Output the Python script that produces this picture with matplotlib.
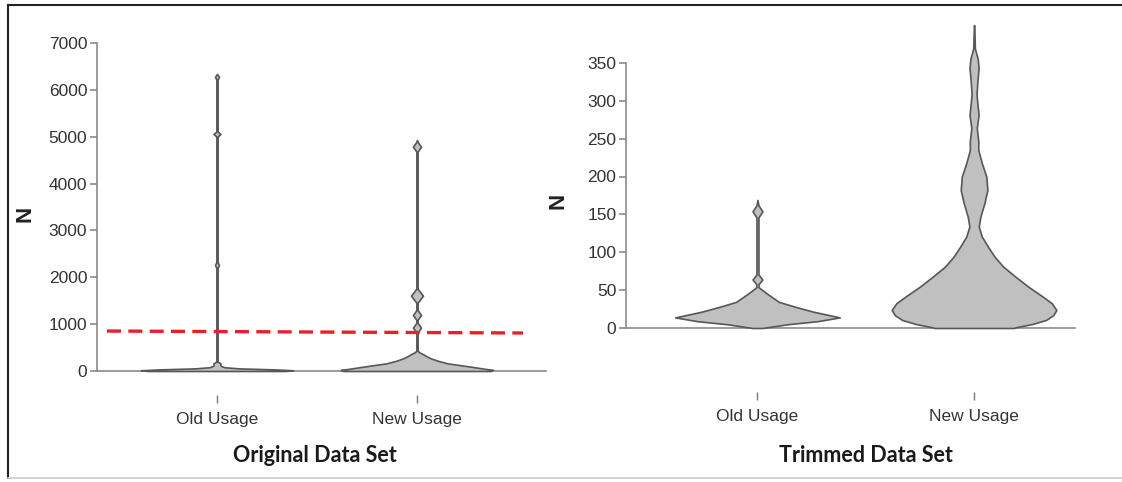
import numpy as np
import matplotlib
matplotlib.use("Agg")
import matplotlib.pyplot as plt
from matplotlib.lines import Line2D

# categories
groups = ["Old Usage", "New Usage"]

# violin outlines: value level and relative half-width
orig_old_levels = [0, 15, 35, 55, 80, 110, 130, 165, 200, 2200, 2262, 2324,
                   5005, 5058, 5111, 6220, 6280, 6320, 6340]
orig_old_width = [0.9, 1.0, 0.75, 0.3, 0.1, 0.05, 0.046, 0.046, 0.008, 0.008, 0.026, 0.008,
                  0.008, 0.046, 0.008, 0.008, 0.026, 0.008, 0.0]

orig_new_levels = [0, 25, 45, 92, 164, 220, 271, 320, 363, 395, 430, 820, 924, 1030,
                   1090, 1195, 1300, 1457, 1607, 1757, 4680, 4787, 4890, 4930]
orig_new_width = [0.97, 1.0, 0.9, 0.71, 0.40, 0.27, 0.18, 0.12, 0.075, 0.035, 0.008, 0.008, 0.053, 0.008,
                  0.008, 0.053, 0.008, 0.008, 0.079, 0.008, 0.008, 0.053, 0.008, 0.0]

trim_old_levels = [0, 5, 9, 14, 21.5, 28, 34.5, 39, 46, 54, 58, 64, 70.5, 146, 154, 162, 169]
trim_old_width = [0.06, 0.37, 0.73, 1.0, 0.68, 0.46, 0.26, 0.20, 0.107, 0.012, 0.014, 0.06, 0.012,
                  0.012, 0.06, 0.012, 0.0]

trim_new_levels = [0, 1, 5.3, 10.6, 17, 23.8, 32.6, 41, 54.5, 68, 81, 94, 107, 120.6, 134, 147,
                   165, 182, 200, 217.5, 235, 246, 264, 281, 308, 325, 343, 355, 369, 385, 400]
trim_new_width = [0.48, 0.51, 0.707, 0.874, 0.963, 1.0, 0.945, 0.84, 0.66, 0.50, 0.354, 0.25, 0.171,
                  0.095, 0.057, 0.077, 0.126, 0.162, 0.149, 0.095, 0.051, 0.052, 0.033, 0.055, 0.03,
                  0.04, 0.055, 0.045, 0.01, 0.006, 0.0]

# cut-off line drawn on the original data set
cutoff_x = [-0.55, 1.53]
cutoff_y = [853, 811]

orig_ticks = [0, 1000, 2000, 3000, 4000, 5000, 6000, 7000]
trim_ticks = [0, 50, 100, 150, 200, 250, 300, 350]

FILL = "#c0c0c0"
EDGE = "#575757"
AXIS = "#8a8a8a"
TXT = "#333333"
HALF = 0.38


def draw_violin(ax, center, levels, widths):
    y = np.asarray(levels, dtype=float)
    half = np.asarray(widths, dtype=float) * HALF
    ax.fill_betweenx(y, center - half, center + half, facecolor=FILL,
                     edgecolor=EDGE, linewidth=1.2, joinstyle="round",
                     zorder=3, clip_on=False)


def style_axes(ax, ticks, top, ylim, xlim, loc):
    ax.set_xlim(*xlim)
    ax.set_ylim(*ylim)
    for s in ["top", "right"]:
        ax.spines[s].set_visible(False)
    for s in ["left", "bottom"]:
        ax.spines[s].set_color(AXIS)
        ax.spines[s].set_linewidth(1.2)
    ax.spines["left"].set_bounds(0, top)
    ax.set_yticks(ticks)
    ax.tick_params(axis="y", direction="out", length=5, width=1.2, color=AXIS,
                   labelsize=12.5, labelcolor=TXT, pad=2)
    ax.set_xticks([])
    ax.set_ylabel("N", fontsize=16, fontweight="bold", color="#222222")
    sec = ax.secondary_xaxis(loc)
    sec.set_xticks([0, 1], groups)
    sec.spines["bottom"].set_visible(False)
    sec.tick_params(axis="x", direction="out", length=6, width=1.0, color="#777777",
                    labelsize=12.5, labelcolor=TXT, pad=6)
    ax.patch.set_alpha(0)


fig = plt.figure(figsize=(11.22, 4.82), dpi=100)
plt.rcParams["font.family"] = ["Liberation Sans", "DejaVu Sans"]

ax1 = fig.add_axes([97 / 1122, 111 / 482, 449 / 1122, 328 / 482])
ax2 = fig.add_axes([626 / 1122, 154 / 482, 449 / 1122, 303 / 482])

style_axes(ax1, orig_ticks, 7000, (0, 7000), (-0.6, 1.645), -0.073)
style_axes(ax2, trim_ticks, 350, (0, 400), (-0.607, 1.466), -0.211)
ax1.yaxis.set_label_coords(-0.136, 0.48)
ax2.yaxis.set_label_coords(-0.129, 0.42)

draw_violin(ax1, 0, orig_old_levels, orig_old_width)
draw_violin(ax1, 1, orig_new_levels, orig_new_width)
ax1.plot(cutoff_x, cutoff_y, color="#e8202a", linewidth=2.4,
         dashes=(4.2, 2.2), zorder=4)

draw_violin(ax2, 0, trim_old_levels, trim_old_width)
draw_violin(ax2, 1, trim_new_levels, trim_new_width)

fig.text(315 / 1122, 1 - 455 / 482, "Original Data Set", ha="center", va="center",
         fontsize=15.5, fontweight="bold", family=["Lato", "DejaVu Sans"], color="#1a1a1a")
fig.text(866 / 1122, 1 - 455 / 482, "Trimmed Data Set", ha="center", va="center",
         fontsize=15.5, fontweight="bold", family=["Lato", "DejaVu Sans"], color="#1a1a1a")

# frame around the picture
fig.add_artist(Line2D([8 / 1122, 1.0], [1 - 5 / 482, 1 - 5 / 482], color="#222222", linewidth=1.5))
fig.add_artist(Line2D([8 / 1122, 8 / 1122], [1 - 5 / 482, 4 / 482], color="#222222", linewidth=1.5))
fig.add_artist(Line2D([8 / 1122, 1.0], [4 / 482, 4 / 482], color="#cccccc", linewidth=1.2))

fig.savefig("out.png", dpi=100)
